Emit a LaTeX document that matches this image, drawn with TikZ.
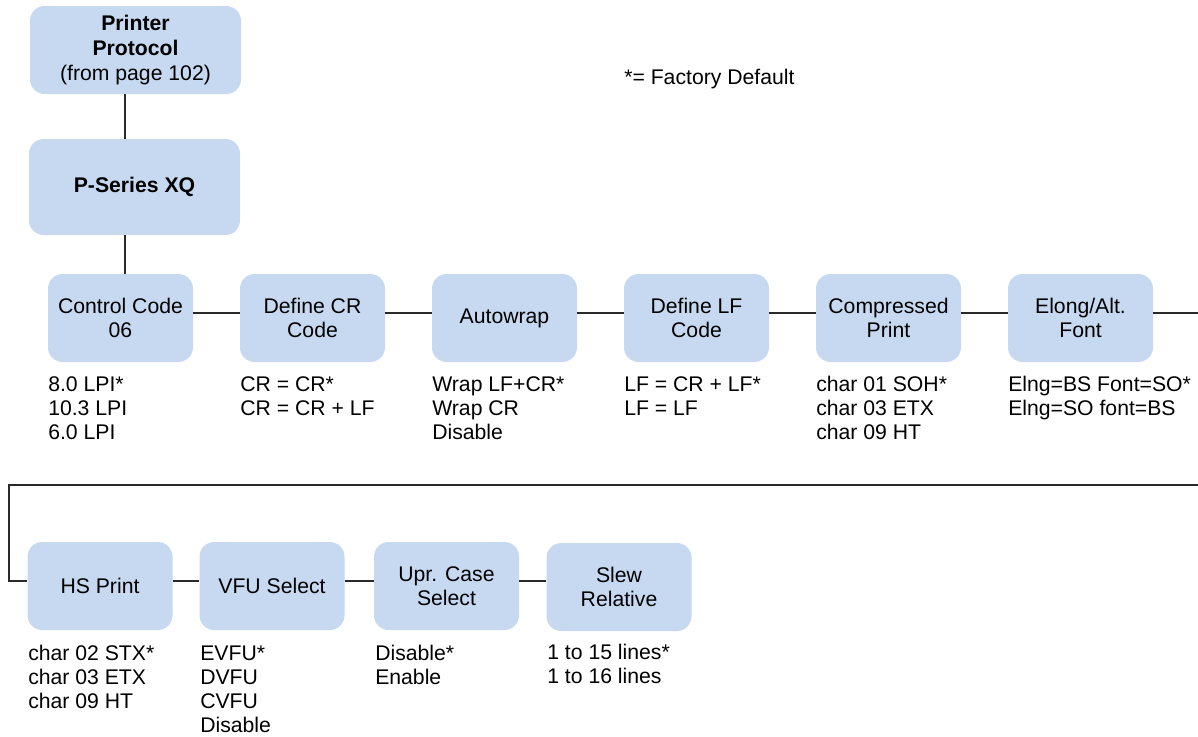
\documentclass[tikz,border=0pt]{standalone}
\usepackage{fontspec}
\setmainfont{Liberation Sans}
\definecolor{boxfill}{HTML}{C6D9F0}
\definecolor{linec}{HTML}{2A2A2A}
\begin{document}
\begin{tikzpicture}[x=0.75pt,y=-0.75pt,
  menubox/.style={draw=none,fill=boxfill,rounded corners=11pt,minimum width=108.75pt,minimum height=66pt,align=center,inner sep=0pt,font=\fontsize{15.9pt}{18pt}\selectfont},
  optlist/.style={anchor=base west,align=left,inner sep=0pt,font=\fontsize{15.9pt}{18pt}\selectfont},
  conn/.style={draw=linec,line width=0.9pt}]
\useasboundingbox (0,0) rectangle (1198,736);
% top boxes
\node[menubox,minimum width=158.25pt,font=\fontsize{15.9pt}{19pt}\selectfont] (pp) at (135.5,50) {\textbf{Printer}\\\textbf{Protocol}\\(from page 102)};
\node[menubox,minimum width=158.25pt,minimum height=72pt] (ps) at (134.5,187) {\textbf{P-Series XQ}};
\node[optlist] (fd) at (624,84) {*= Factory Default};
% row 1
\node[menubox] (cc) at (120.5,318) {Control Code\\06};
\node[menubox] (cr) at (312.5,318) {Define CR\\Code};
\node[menubox] (aw) at (504.5,318) {Autowrap};
\node[menubox] (lf) at (696.5,318) {Define LF\\Code};
\node[menubox] (cp) at (888.5,318) {Compressed\\Print};
\node[menubox] (el) at (1080.5,318) {Elong/Alt.\\Font};
% row 2
\node[menubox] (hs) at (100,586) {HS Print};
\node[menubox] (vf) at (272,586) {VFU Select};
\node[menubox] (uc) at (446.5,586) {Upr. Case\\Select};
\node[menubox] (sr) at (619,587) {Slew\\Relative};
% options (anchored at the baseline of the last line)
\node[optlist] (occ) at (48,439) {8.0 LPI*\\10.3 LPI\\6.0 LPI};
\node[optlist] (ocr) at (240,415) {CR = CR*\\CR = CR + LF};
\node[optlist] (oaw) at (432,439) {Wrap LF+CR*\\Wrap CR\\Disable};
\node[optlist] (olf) at (624,415) {LF = CR + LF*\\LF = LF};
\node[optlist] (ocp) at (816,439) {char 01 SOH*\\char 03 ETX\\char 09 HT};
\node[optlist] (oel) at (1008,415) {Elng=BS Font=SO*\\Elng=SO font=BS};
\node[optlist] (ohs) at (28,708) {char 02 STX*\\char 03 ETX\\char 09 HT};
\node[optlist] (ovf) at (200,732) {EVFU*\\DVFU\\CVFU\\Disable};
\node[optlist] (ouc) at (375,684) {Disable*\\Enable};
\node[optlist] (osr) at (547,683) {1 to 15 lines*\\1 to 16 lines};
% connectors
\coordinate (vx) at (125,0);
\draw[conn] (pp.south -| vx) -- (ps.north -| vx);
\draw[conn] (ps.south -| vx) -- (cc.north -| vx);
\draw[conn] ([yshift=3.75pt]cc.east) -- ([yshift=3.75pt]cr.west);
\draw[conn] ([yshift=3.75pt]cr.east) -- ([yshift=3.75pt]aw.west);
\draw[conn] ([yshift=3.75pt]aw.east) -- ([yshift=3.75pt]lf.west);
\draw[conn] ([yshift=3.75pt]lf.east) -- ([yshift=3.75pt]cp.west);
\draw[conn] ([yshift=3.75pt]cp.east) -- ([yshift=3.75pt]el.west);
\coordinate (rx) at (1201,0);
\coordinate (by) at (0,485);
\coordinate (lx) at (9,0);
\draw[conn] ([yshift=3.75pt]el.east) -- ([yshift=3.75pt]el.east -| rx) -- (rx |- by) -- (lx |- by) -- ([yshift=3.75pt]hs.west -| lx) -- ([yshift=3.75pt]hs.west);
\draw[conn] ([yshift=3.75pt]hs.east) -- ([yshift=3.75pt]vf.west);
\draw[conn] ([yshift=3.75pt]vf.east) -- ([yshift=3.75pt]uc.west);
\draw[conn] ([yshift=3.75pt]uc.east) -- ([yshift=3.75pt]sr.west |- uc.east);
\end{tikzpicture}
\end{document}
